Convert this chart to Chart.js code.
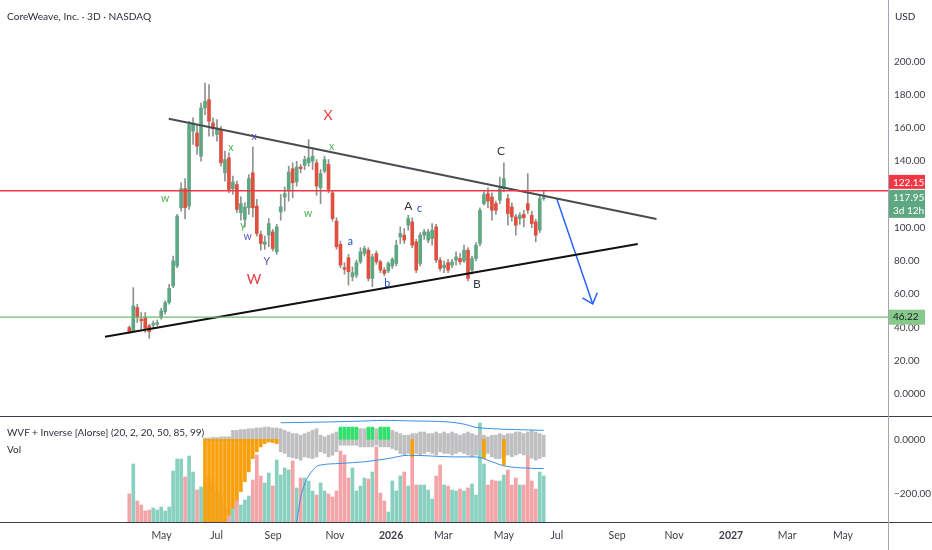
<!DOCTYPE html>
<html>
<head>
<meta charset="utf-8">
<script src="https://cdn.jsdelivr.net/npm/chart.js@4.4.1/dist/chart.umd.min.js"></script>
<style>
  body { margin: 0; background: #fff; width: 932px; height: 550px; overflow: hidden; position: relative; font-family: Lato, "Open Sans", sans-serif; }
  canvas { position: absolute; left: 0; }
  #main { top: 0; }
  #osc { top: 417px; }
  .sep { position: absolute; background: #3a3e48; }
  .txt { position: absolute; color: #2a2e39; font-size: 10.5px; white-space: nowrap; }
</style>
</head>
<body>
<canvas id="main" width="932" height="416"></canvas>
<canvas id="osc" width="932" height="133"></canvas>
<div class="sep" style="left:0;top:416px;width:932px;height:1px"></div>
<div class="sep" style="left:0;top:522px;width:932px;height:1px"></div>
<div class="sep" style="left:888px;top:0;width:1px;height:550px;background:#a3a6ae"></div>
<div class="txt" style="left:7px;top:10px;font-size:10.2px">CoreWeave, Inc. · 3D · NASDAQ</div>
<div class="txt" style="left:895px;top:10px;font-size:10px">USD</div>
<div class="txt" style="left:7px;top:426px;font-size:10px">WVF + Inverse [Alorse] (20, 2, 20, 50, 85, 99)</div>
<div class="txt" style="left:7px;top:443px;font-size:10px">Vol</div>
<script>
// 3D bars, index 0 = first bar after the IPO
const candleOpen = [40,38,52,45,46,41,41.5,42,46,49.5,55,65,77,112,123.5,113,158,157,143,172,177,163,156,159,133,142,123.5,126,109,105,112,133,113,96,90,95.5,97.5,85.5,109.5,118.5,122.5,135.5,127.5,136.5,137.5,139,140,139,124,134,138,121,104,90,76,82,70.5,71.5,79.5,84.5,86.5,69.5,84.5,79.5,74.5,74,77,78.5,94.5,95.5,101.5,103.5,91.5,78.5,95.5,92.5,93.5,100.5,80.5,76,79,77.5,80.5,81.5,80,86.5,74.5,81.5,90.5,114.5,120.5,118.5,114.5,116.5,123.5,117.5,112.5,106.5,105.5,108,114.5,107.5,103.5,98.5,117.5];
const candleHigh = [41,64,54,49,49,42,44,44.5,51.5,56,66,83,108,127,129.5,164,166,162,175,187,186,166,165,161,146,145,131,128,118.5,115,132,148.5,117,98,95,105.5,99,102,120,124.5,137,139,140,138,143,153,148,141,135,143,141,122,106,92,79,84,76.5,80.5,88,89,88,84,86,80.5,76,79.5,82,92.5,100.5,99.5,107.5,106,93,97,99,99,102.5,102,82,80,81,81,85.5,84.5,89.5,88,83,91,112,121.5,124,121,116,130.5,139,120,115,108,109,110.5,132.5,110,105,119,122.5];
const candleLow = [36.5,37,43,39,37,33.5,40,41,45,48,54,64,76,110,105.5,111,150,144,140,168,155,155,152,137,128,121,120,109,104.5,100.5,108,106.5,95,86.5,87,88.5,86,84,104.5,110,116,118,125,133,135,137,135,119.5,114.5,133,121,104,87,76,72,65.5,68,70,78.5,83,68,64.5,78,73,71,73,75.5,77,90.5,90.5,98.5,88,73,77,93,91,89.5,79,74,73,73,76,77.5,78,79,68,72,80,89,113.5,112,104.5,108,114.5,121.5,101.5,104,95.5,102,100.5,108.5,100,91.5,97,116.5];
const candleClose = [37.5,53,46,44,39.5,37.5,42.5,43,50,55,63.5,80,107,123.5,112,162,163,149,172,176,164,159.5,160,139,141,123,127.5,111,114.5,112.5,129.5,112,96.5,90.5,91.5,102.5,87.5,100.5,112.5,120.5,133.5,127,136.5,135.5,141,142,143,125,132.5,141,123,105.5,88.5,77.5,75,73.5,73,79,85.5,87.5,69.5,82.5,79.5,74.5,72.5,78.5,81,89.5,96.5,92.5,105.5,89.5,74.5,95.5,97.5,97.5,98.5,80.5,75.5,77.5,74.5,79.5,82.5,79.5,86.5,69.5,81.5,89.5,110.5,120,116,110.5,110.5,123.5,129.5,108.5,106.5,101.5,107.5,106,110.5,102.5,95.5,117.5,117.95];
const volume = [28,58,21,17,11,12,14,12,15,11,15,51,63,63,45,66,50,32,35,40,45,38,30,25,14,14,14,22,17,22,26,42,67,46,39,49,36,62,47,54,52,61,34,44,44,41,31,27,39,31,28,25,31,71,67,44,54,31,36,44,43,50,75,29,21,10,41,31,46,50,36,75,37,37,37,32,23,46,57,37,36,32,31,33,31,34,38,27,99,58,37,42,41,41,47,52,37,44,37,37,66,41,33,50,46];

// WVF + Inverse pane
const wvfStart = 19;
const wvfTop = [5,5,7,7,9,9,9,33,33,36,36,39,39,42,42,45,45,42,42,39,33,27,21,21,15,21,27,33,39,15,9,15,21,27,39,39,39,39,39,39,39,39,39,39,39,39,39,33,27,21,15,15,21,21,27,27,21,21,27,21,27,21,27,21,15,21,27,21,15,27,15,9,15,15,21,15,21,21,27,27,21,27,33,27,21,15];
const wvfBottom = [-5,-5,-5,-5,-5,-5,-5,-5,-5,-5,-5,-5,-5,-5,-5,-5,-5,-5,-5,-46,-52,-64,-68,-71,-77,-65,-68,-71,-65,-46,-52,-65,-59,-46,-22,-22,-22,-22,-22,-28,-28,-28,-28,-22,-28,-28,-28,-34,-40,-52,-58,-52,-46,-52,-58,-52,-46,-52,-58,-46,-52,-52,-58,-52,-46,-52,-58,-64,-58,-40,-60,-52,-65,-71,-71,-65,-58,-64,-58,-52,-58,-64,-70,-77,-71,-64];
const alertIdx = [19,20,21,22,23,24,25,26,27,28,29,30,31,32,33,34,35,36,37,71,89,94];
const alertVal = [-330,-330,-330,-330,-330,-306,-280,-254,-224,-193,-156,-120,-71,-46,-28,-16,-10,-12,-16,-64,-71,-95];
const inverseIdx = [53,54,55,56,57,60,61,63,64,65];
const inverseVal = [45,45,45,45,45,45,45,45,45,45];
const bandUpperIdx = [38,50,60,64,70,80,84,87,90,104];
const bandUpperVal = [61,64,68,70,68,64,56,44,40,33];
const bandLowerIdx = [42,43,44,45,46,47,48,53,59,65,70,75,81,87,91,94,98,104];
const bandLowerVal = [-306,-215,-165,-135,-115,-100,-95,-89,-83,-71,-59,-61,-65,-65,-83,-98,-105,-108];

// time axis
const monthLabels = ["May","Jul","Sep","Nov","2026","Mar","May","Jul","Sep","Nov","2027","Mar","May"];
const monthIdx = [8.1,21.9,36.1,51.6,65.7,78.8,94.0,107.3,122.4,136.7,151.0,165.1,179.1];
const priceTicks = [0,20,40,60,80,100,120,140,160,180,200];

// drawings (bar index, price)
const resistIdx = [9.9,132.3], resistVal = [165.5,105.2];
const supportIdx = [-6.1,127.6], supportVal = [34.5,90.2];
const arrowIdx = [107.3,116.3], arrowVal = [117.3,54.2];
const levelRed = 122.15, levelGreen = 46.22;
const waveText = ["w","x","x","y","w","Y","W","X","x","w","a","A","c","b","B","C"];
const waveDegree = ["g","g","p","g","p","p","R","R","g","g","b","k","b","b","k","k"];
const waveIdx = [9.0,25.5,31.3,28.5,29.7,34.5,31.3,49.9,50.8,44.9,55.5,70.0,72.8,64.7,87.2,93.3];
const waveVal = [117.3,148.4,155.0,101.4,94.8,79.5,68.7,167.5,149,108.3,91.7,112.8,111.3,66.3,66.3,146];

const X_MIN = -32.45, X_MAX = 190.4;
const UP = '#5ea783', DOWN = '#e0503f';
const FONT = 'Lato, "Open Sans", sans-serif';
const waveStyle = {
  g: { color: '#4caf50', font: '10.5px ' + FONT },
  p: { color: '#5b52c4', font: '10.5px ' + FONT },
  b: { color: '#1f47d0', font: '10.5px ' + FONT },
  k: { color: '#34373f', font: '12px ' + FONT },
  R: { color: '#e8383d', font: '14px ' + FONT }
};

const bars = candleOpen.map((_, i) => i);
const isUp = i => candleClose[i] >= candleOpen[i];

function seg(xs, ys) {
  return xs.map((x, k) => ({ x: x, y: ys[k] }));
}

// right price scale: fixed width, no extra label padding above/below the pane
function fitRight(s) {
  s.width = 44;
  s.paddingTop = 0;
  s.paddingBottom = 0;
}

const waveLabels = {
  id: 'waveLabels',
  afterDatasetsDraw(chart) {
    const { ctx, scales: { x, y } } = chart;
    ctx.save();
    ctx.textAlign = 'center';
    ctx.textBaseline = 'middle';
    waveText.forEach((t, k) => {
      const st = waveStyle[waveDegree[k]];
      ctx.font = st.font;
      ctx.fillStyle = st.color;
      ctx.fillText(t, x.getPixelForValue(waveIdx[k]), y.getPixelForValue(waveVal[k]));
    });
    // arrow head
    const x0 = x.getPixelForValue(arrowIdx[0]), y0 = y.getPixelForValue(arrowVal[0]);
    const x1 = x.getPixelForValue(arrowIdx[1]), y1 = y.getPixelForValue(arrowVal[1]);
    const a = Math.atan2(y0 - y1, x0 - x1);
    ctx.strokeStyle = '#2962ff';
    ctx.lineWidth = 1.5;
    ctx.beginPath();
    ctx.moveTo(x1 + 12 * Math.cos(a + 0.72), y1 + 12 * Math.sin(a + 0.72));
    ctx.lineTo(x1, y1);
    ctx.lineTo(x1 + 12 * Math.cos(a - 0.72), y1 + 12 * Math.sin(a - 0.72));
    ctx.stroke();
    ctx.restore();
  }
};

function box(ctx, top, h, bg, fg, lines) {
  ctx.fillStyle = bg;
  ctx.fillRect(889, top, 36, h);
  ctx.fillStyle = fg;
  ctx.textAlign = 'left';
  ctx.textBaseline = 'middle';
  lines.forEach((s, k) => ctx.fillText(s, 893, top + 7.5 + k * 13));
}

const priceBoxes = {
  id: 'priceBoxes',
  afterDraw(chart) {
    const { ctx, scales: { y } } = chart;
    const last = candleClose[candleClose.length - 1];
    ctx.save();
    ctx.font = '10px ' + FONT;
    box(ctx, y.getPixelForValue(levelRed) - 16, 14, '#f23645', '#fff', [levelRed.toFixed(2)]);
    box(ctx, y.getPixelForValue(last) - 8, 28, isUp(bars.length - 1) ? UP : DOWN, '#fff', [last.toFixed(2), '3d 12h']);
    box(ctx, y.getPixelForValue(levelGreen) - 7.5, 15, '#86c98a', '#131722', [levelGreen.toFixed(2)]);
    ctx.restore();
  }
};

function lineSet(data, color, width) {
  return { type: 'line', data: data, borderColor: color, borderWidth: width, pointRadius: 0, fill: false, order: 1 };
}

new Chart(document.getElementById('main'), {
  type: 'bar',
  data: {
    datasets: [
      lineSet(seg([X_MIN, X_MAX], [levelRed, levelRed]), '#f23645', 1.5),
      lineSet(seg([X_MIN, X_MAX], [levelGreen, levelGreen]), '#6dbb6f', 1.2),
      lineSet(seg(resistIdx, resistVal), '#4a4c52', 2),
      lineSet(seg(supportIdx, supportVal), '#111', 2),
      lineSet(seg(arrowIdx, arrowVal), '#2962ff', 1.5),
      {
        data: bars.map(i => ({ x: i, y: [candleLow[i], candleHigh[i]] })),
        backgroundColor: '#8e9290', barThickness: 1, grouped: false, order: 6
      },
      {
        data: bars.map(i => ({ x: i, y: [candleOpen[i], candleClose[i]] })),
        backgroundColor: bars.map(i => isUp(i) ? UP : DOWN),
        barThickness: 3, minBarLength: 1, grouped: false, order: 5
      }
    ]
  },
  options: {
    responsive: false,
    animation: false,
    layout: { padding: 0 },
    plugins: { legend: { display: false }, tooltip: { enabled: false } },
    scales: {
      x: { type: 'linear', min: X_MIN, max: X_MAX, offset: false, display: false },
      y: {
        position: 'right', min: -13.2, max: 236.9,
        afterFit: fitRight,
        afterBuildTicks: s => { s.ticks = priceTicks.map(v => ({ value: v })); },
        grid: { display: false, drawTicks: false },
        border: { display: false },
        ticks: {
          padding: 6, color: '#3d4049', font: { family: FONT, size: 10 },
          callback: v => v === 0 ? '0.0000' : v.toFixed(2)
        }
      }
    }
  },
  plugins: [waveLabels, priceBoxes]
});

new Chart(document.getElementById('osc'), {
  type: 'bar',
  data: {
    datasets: [
      {
        data: bars.map(i => ({ x: i, y: volume[i] })), yAxisID: 'yv',
        backgroundColor: bars.map(i => isUp(i) ? '#88d0c0' : '#f3a4a7'),
        barThickness: 3, grouped: false, order: 6
      },
      {
        data: wvfTop.map((v, k) => ({ x: wvfStart + k, y: [wvfBottom[k], v] })), yAxisID: 'yw',
        backgroundColor: '#bfbfc1', barThickness: 3, grouped: false, order: 5
      },
      {
        data: alertIdx.map((x, k) => ({ x: x, y: [0, alertVal[k]] })), yAxisID: 'yw',
        backgroundColor: '#f7a00c', barThickness: 3, grouped: false, order: 4
      },
      {
        data: inverseIdx.map((x, k) => ({ x: x, y: [0, inverseVal[k]] })), yAxisID: 'yw',
        backgroundColor: '#2ee26c', barThickness: 3, grouped: false, order: 3
      },
      Object.assign(lineSet(seg(bandUpperIdx, bandUpperVal), '#3d8fe0', 1), { yAxisID: 'yw', cubicInterpolationMode: 'monotone' }),
      Object.assign(lineSet(seg(bandLowerIdx, bandLowerVal), '#3d8fe0', 1), { yAxisID: 'yw', cubicInterpolationMode: 'monotone' })
    ]
  },
  options: {
    responsive: false,
    animation: false,
    layout: { padding: 0 },
    plugins: { legend: { display: false }, tooltip: { enabled: false } },
    scales: {
      x: {
        type: 'linear', min: X_MIN, max: X_MAX, offset: false,
        afterFit: s => { s.height = 28; s.paddingLeft = 0; s.paddingRight = 0; },
        afterBuildTicks: s => { s.ticks = monthIdx.map(v => ({ value: v })); },
        grid: { display: false, drawTicks: false },
        border: { display: false },
        ticks: {
          autoSkip: false, maxRotation: 0, padding: 7, color: '#3d4049',
          font: ctx => ({ family: FONT, size: 10.5, weight: /^\d/.test(monthLabels[ctx.index]) ? 'bold' : 'normal' }),
          callback: (v, k) => monthLabels[k]
        }
      },
      yw: {
        position: 'right', min: -305.2, max: 82.3,
        afterFit: fitRight,
        afterBuildTicks: s => { s.ticks = [{ value: 0 }, { value: -200 }]; },
        grid: { display: false, drawTicks: false },
        border: { display: false },
        ticks: {
          padding: 6, color: '#3d4049', font: { family: FONT, size: 10 },
          callback: v => v === 0 ? '0.0000' : '\u2212' + Math.abs(v).toFixed(2)
        }
      },
      yv: { display: false, min: 0, max: 105 }
    }
  }
});
</script>
</body>
</html>
